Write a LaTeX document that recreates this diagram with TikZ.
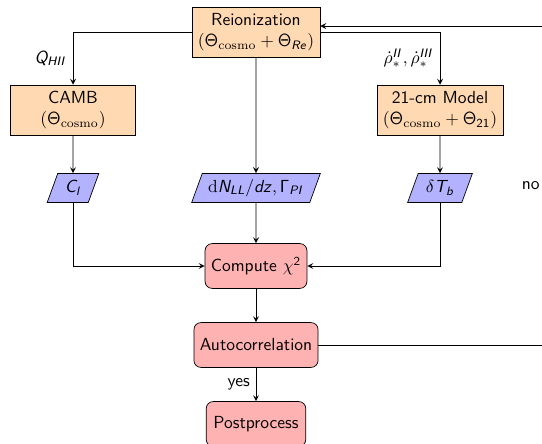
\documentclass[tikz,border=0pt]{standalone}
\usetikzlibrary{shapes.geometric,arrows}
% sans math letters, roman \mathrm
\DeclareSymbolFont{sfletters}{OT1}{cmss}{m}{sl}
\DeclareSymbolFont{sfupright}{OT1}{cmss}{m}{n}
\makeatletter
\@tfor\ch:=abcdefghijklmnopqrstuvwxyzABCDEFGHIJKLMNOPQRSTUVWXYZ\do{%
	\expandafter\DeclareMathSymbol\expandafter{\ch}{\mathalpha}{sfletters}{\expandafter`\ch}}
\@tfor\ch:=0123456789\do{%
	\expandafter\DeclareMathSymbol\expandafter{\ch}{\mathalpha}{sfupright}{\expandafter`\ch}}
\makeatother
\DeclareMathSymbol{\Gamma}{\mathalpha}{sfupright}{"00}
\DeclareMathSymbol{\Theta}{\mathalpha}{sfupright}{"02}

\begin{document}
\begin{tikzpicture}[x=0.5714pt, y=-0.5714pt, font=\sffamily,
	process/.style={rectangle, minimum width=2.5cm, minimum height=1cm, align=center, draw=black, fill=orange!30},
	startstop/.style={rectangle, rounded corners, minimum width=2cm, minimum height=0.9cm, align=center, draw=black, fill=red!30},
	io/.style={trapezium, trapezium left angle=70, trapezium right angle=110, minimum height=0.58cm, align=center, draw=black, fill=blue!30},
	arrow/.style={line width=0.5pt, ->, >=stealth}]
				\clip (0,0) rectangle (542,444);
				
				%models
				\node[process] (reion) at (256,32) {Reionization\\$(\Theta_{\mathrm{cosmo}}+\Theta_{Re})$};
				\node[process] (camb) at (73,110) {CAMB\\$(\Theta_{\mathrm{cosmo}})$};
				\node[process] (model) at (440,110) {21-cm Model\\$(\Theta_{\mathrm{cosmo}}+\Theta_{21})$};
				
				%outputs
				\node[io] (cl) at (73,188) {$C_l$};
				\node[io] (dn) at (256,188) {$\mathrm{d}N_{LL}/dz, \Gamma_{PI}$};
				\node[io] (dtb) at (440,188) {$\delta T_b$};
				
				%chain
				\node[startstop] (chi) at (256,266) {Compute $\chi^2$};
				\node[startstop] (auto) at (256,345) {Autocorrelation};
				\node[startstop] (post) at (256,424) {Postprocess};
				\coordinate (loop) at (546,345);
				
				\draw[arrow] (reion.west) -| node[pos=0.75, left]{$Q_{HII}$} (camb.north);
				\draw[arrow] (reion.east) -| node[pos=0.75, left]{$\dot\rho_*^{II}, \dot\rho_*^{III}$} (model.north);
				\draw[arrow] (reion) -- (dn);
				\draw[arrow] (camb) -- (cl);
				\draw[arrow] (model) -- (dtb);
				\draw[arrow] (cl) |- (chi);
				\draw[arrow] (dtb) |- (chi);
				\draw[arrow] (dn) -- (chi);
				\draw[arrow] (chi) -- (auto);
				\draw[arrow] (auto) -- node[left]{yes} (post);
				\draw[arrow] (auto) -- (loop) |- node[pos=0.25, left]{no} ([yshift=3.4pt]reion.east);
\end{tikzpicture}
\end{document}
